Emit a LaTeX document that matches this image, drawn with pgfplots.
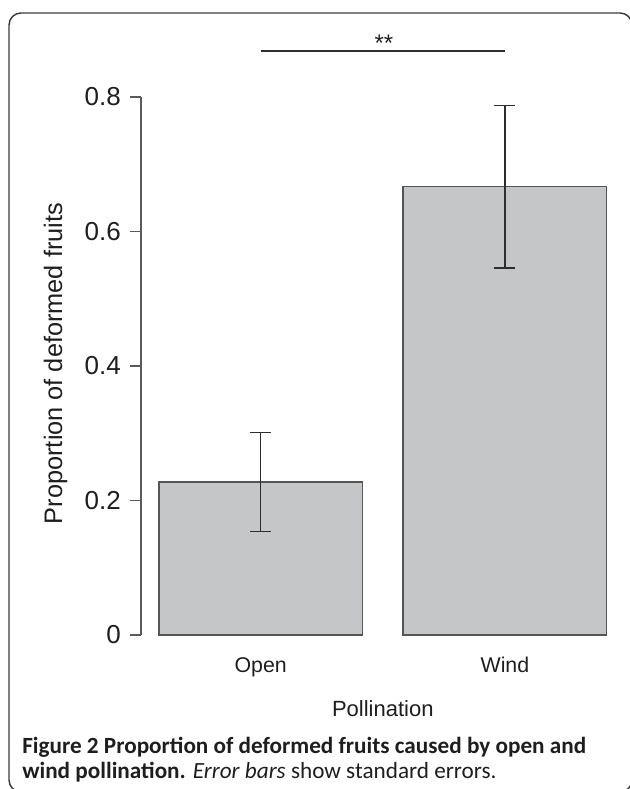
\documentclass[border=0pt]{standalone}
\usepackage{pgfplots}
\pgfplotsset{compat=1.18}
\usepackage{fontspec}
\setmainfont{Liberation Sans}
\newfontfamily\capfont{Carlito}

\definecolor{barfill}{HTML}{C5C6C8}
\definecolor{baredge}{HTML}{555555}
\definecolor{errcol}{HTML}{2E2E2E}
\definecolor{axisgray}{HTML}{5A5A5A}
\definecolor{ink}{HTML}{1E1E1E}
\definecolor{framecol}{HTML}{3A3A3A}

\begin{document}
\begin{tikzpicture}
\begin{axis}[
  at={(0,0)}, anchor=south west,
  scale only axis, width=362.7pt, height=403.5pt,
  xmin=0.112, xmax=2.488, ymin=0, ymax=0.8,
  axis lines*=left,
  x axis line style={draw=none},
  y axis line style={draw=axisgray, line width=1pt},
  ybar, bar width=1,
  xtick={0.7,1.9}, xticklabels={Open,Wind},
  x tick style={draw=none},
  ytick={0,0.2,0.4,0.6,0.8},
  tick align=outside, major tick length=8.25pt,
  y tick style={draw=axisgray, line width=1pt},
  /pgf/number format/assume math mode=true,
  yticklabel style={font=\fontsize{19.5}{20}\selectfont, text=ink, anchor=east, inner sep=0pt, xshift=-6.75pt},
  xticklabel style={font=\fontsize{16}{18}\selectfont, text=ink, anchor=base, yshift=-19.5pt},
  ylabel={Proportion of deformed fruits},
  every axis y label/.style={at={(axis description cs:-0.163,0.5046)}, rotate=90, anchor=base, inner sep=0pt, font=\fontsize{19}{20}\selectfont, text=ink},
  xlabel={Pollination},
  every axis x label/.style={at={(axis description cs:0.5,-0.1524)}, anchor=base, inner sep=0pt, font=\fontsize{16.5}{18}\selectfont, text=ink},
  clip=false,
]
\addplot[fill=barfill, draw=baredge, line width=1pt,
  error bars/.cd, y dir=both, y explicit,
  error bar style={line width=1.1pt, color=errcol},
  error mark options={rotate=90, mark size=7.9pt, line width=1.1pt, color=errcol}]
  coordinates {(0.7,0.2275) +- (0,0.0735) (1.9,0.6665) +- (0,0.1205)};
% significance bar between the two groups
\draw[line width=1.3pt, color=errcol] (axis cs:0.7,0.868) -- (axis cs:1.9,0.868);
\end{axis}

\begin{scope}[x=0.75pt, y=-0.75pt, shift={(-141,-635)}]
\useasboundingbox (0,0) rectangle (629,789);
\draw[line width=1.1pt, color=framecol, rounded corners=9pt] (9,13) rectangle (632,792);
\node[anchor=base, inner sep=0pt, font=\fontsize{18}{18}\selectfont, text=ink] at (384,52) {**};
\node[anchor=base west, inner sep=0pt, font=\capfont\fontsize{17.4}{20}\selectfont, text=ink] at (22,753)
  {\textbf{Figure 2 Proportion of deformed fruits caused by open and}};
\node[anchor=base west, inner sep=0pt, font=\capfont\fontsize{17.4}{20}\selectfont, text=ink] at (22,778)
  {\textbf{wind pollination.} \textit{Error bars} show standard errors.};
\end{scope}
\end{tikzpicture}
\end{document}
